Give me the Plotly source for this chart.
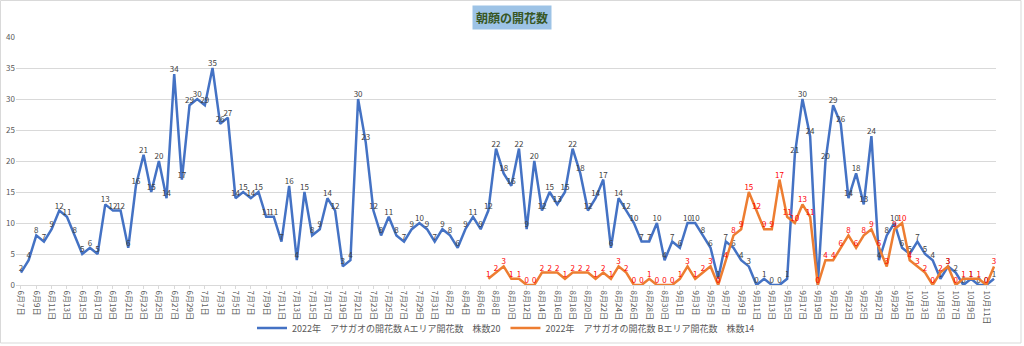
import pandas as pd
import plotly.graph_objects as go

# Daily categories: 6月7日 .. 10月12日 (2022)
days = pd.date_range("2022-06-07", "2022-10-12", freq="D")
dates = [f"{d.month}月{d.day}日" for d in days]
tick_labels = dates[::2]

# Area A (20 plants): flowers per day
area_a = [
    2, 4, 8, 7, 9, 12, 11, 8, 5, 6,
    5, 13, 12, 12, 6, 16, 21, 15, 20, 14,
    34, 17, 29, 30, 29, 35, 26, 27, 14, 15,
    14, 15, 11, 11, 7, 16, 4, 15, 8, 9,
    14, 12, 3, 4, 30, 23, 12, 8, 11, 8,
    7, 9, 10, 9, 7, 9, 8, 6, 9, 11,
    9, 12, 22, 18, 16, 22, 9, 20, 12, 15,
    13, 15, 22, 18, 12, 14, 17, 6, 14, 12,
    10, 7, 7, 10, 4, 7, 6, 10, 10, 8,
    6, 1, 7, 6, 4, 3, 0, 1, 0, 0,
    1, 21, 30, 24, 0, 20, 29, 26, 14, 18,
    13, 24, 4, 8, 10, 6, 5, 7, 5, 4,
    1, 3, 2, 0, 1, 0, 0, 1,
]

# Area B (14 plants): recording starts on 8月7日
area_b_start = "8月7日"
area_b = [
    1, 2, 3, 1, 1, 0, 0, 2, 2, 2,
    1, 2, 2, 2, 1, 2, 1, 3, 2, 0,
    0, 1, 0, 0, 0, 1, 3, 1, 2, 3,
    0, 4, 8, 9, 15, 12, 9, 9, 17, 11,
    10, 13, 11, 0, 4, 4, 6, 8, 6, 8,
    9, 6, 3, 9, 10, 4, 3, 2, 0, 2,
    3, 0, 1, 1, 1, 0, 3,
]

name_a = "2022年　アサガオの開花数 Aエリア開花数　株数20"
name_b = "2022年　アサガオの開花数 Bエリア開花数　株数14"

b_offset = dates.index(area_b_start)
b_full = [None] * b_offset + area_b
b_text = ["" if v is None else str(v) for v in b_full]

FONT = "Noto Sans CJK JP"
BLUE = "#4472C4"
ORANGE = "#ED7D31"

fig = go.Figure()
fig.add_trace(go.Scatter(
    x=dates, y=area_a, name=name_a, mode="lines+text",
    line=dict(color=BLUE, width=2.5),
    text=[str(v) for v in area_a], textposition="top center",
    textfont=dict(family=FONT, size=8, color="#404040"),
    cliponaxis=False,
))
fig.add_trace(go.Scatter(
    x=dates, y=b_full, name=name_b, mode="lines+text",
    line=dict(color=ORANGE, width=2.5),
    text=b_text, textposition="top center",
    textfont=dict(family=FONT, size=8, color="#FF0000"),
    cliponaxis=False,
))

L, R, T, B = 16, 28, 37, 61
W, H = 1024, 346
pw, ph = W - L - R, H - T - B

fig.update_layout(
    width=W, height=H,
    margin=dict(l=L, r=R, t=T, b=B, autoexpand=False),
    paper_bgcolor="white", plot_bgcolor="white",
    font=dict(family=FONT, color="#595959"),
    showlegend=True,
    legend=dict(
        orientation="h", x=0.5, xanchor="center",
        y=(285 - 328) / ph, yanchor="middle",
        bgcolor="rgba(0,0,0,0)",
        font=dict(size=9, color="#595959"),
        itemwidth=30, tracegroupgap=0,
    ),
    xaxis=dict(
        type="category", categoryorder="array", categoryarray=dates,
        range=[-0.65, len(dates) - 1 + 0.26],
        tickmode="array", tickvals=tick_labels, ticktext=tick_labels,
        tickangle=90, tickfont=dict(size=8, color="#595959"),
        showgrid=False, showline=True, linecolor="#D9D9D9", linewidth=1,
        ticks="outside", ticklen=3, tickcolor="#D9D9D9",
        zeroline=False, automargin=False,
    ),
    yaxis=dict(
        range=[0, 40], dtick=5, tick0=0,
        showgrid=True, gridcolor="#D9D9D9", gridwidth=1,
        zeroline=False, showline=False,
        tickfont=dict(size=8, color="#595959"),
        automargin=False,
    ),
    annotations=[dict(
        text="<b>朝顔の開花数</b>", xref="paper", yref="paper",
        x=(512 - L) / pw, y=1 + (T - 17) / ph,
        xanchor="center", yanchor="middle", showarrow=False,
        font=dict(family=FONT, size=12, color="#375623"),
        bgcolor="#9DC3E6", borderpad=3,
    )],
    shapes=[dict(
        type="rect", xref="paper", yref="paper",
        x0=(0.5 - L) / pw, x1=(1021 - L) / pw,
        y0=(285 - 343) / ph, y1=(285 - 0.5) / ph,
        line=dict(color="#D9D9D9", width=1), fillcolor="rgba(0,0,0,0)",
        layer="below",
    )],
)

fig.write_html("out.html")
